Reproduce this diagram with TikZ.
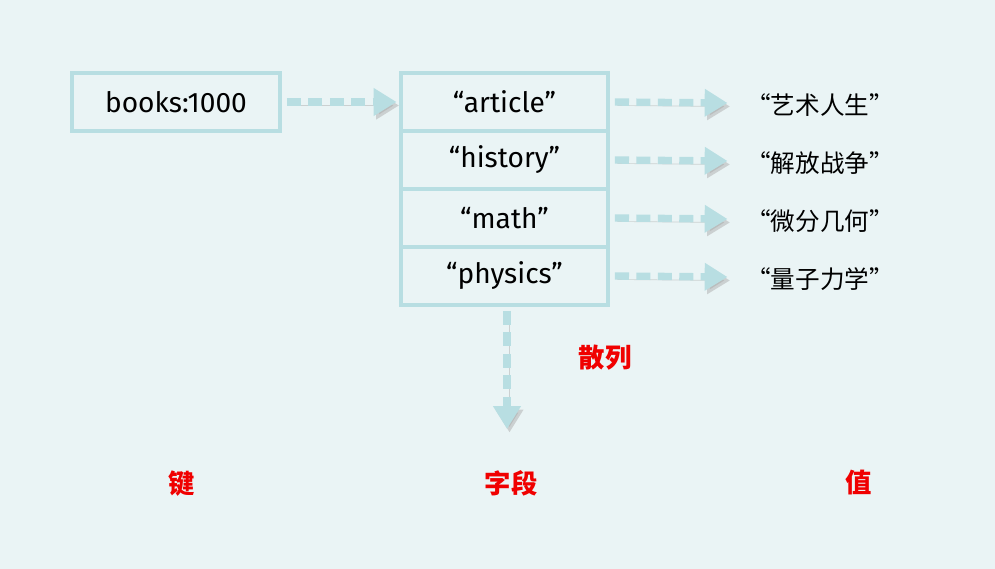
\documentclass[tikz,border=0pt]{standalone}
\usepackage{fontspec}
\setmainfont{Fira Sans}
\newfontfamily\cjk{Noto Sans CJK SC}
\usepackage{tikz}
\usetikzlibrary{arrows.meta,positioning,calc}
\definecolor{bgdots}{RGB}{234,244,245}
\definecolor{cellblue}{RGB}{184,222,226}
\definecolor{labelred}{RGB}{240,0,0}

\begin{document}
\begin{tikzpicture}[
    cell/.style={draw=cellblue, line width=2.2pt, minimum width=4.14cm, minimum height=1.16cm,
                 font=\fontsize{16}{19}\selectfont, text centered, inner sep=0pt},
    flow/.style={draw=cellblue, line width=4.2pt, dash pattern=on 8pt off 4.2pt,
                 -{Triangle[width=15pt,length=13pt]},
                 preaction={draw=gray!70, opacity=0.45, transform canvas={shift={(0.05,-0.07)}}}},
    val/.style={font=\cjk\fontsize{14}{17}\selectfont, anchor=west},
    tag/.style={font=\cjk\bfseries\fontsize{15}{18}\selectfont, text=labelred}
]
\useasboundingbox[fill=bgdots] (0,0) rectangle (19.9,-11.38);

\node[cell, minimum width=4.16cm] (key) at (3.52,-2.04) {books:1000};

\node[cell] (f1) at (10.09,-2.04) {“article”};
\node[cell] (f2) at (10.09,-3.20) {“history”};
\node[cell] (f3) at (10.09,-4.36) {“math”};
\node[cell] (f4) at (10.09,-5.52) {“physics”};

\node[val] (v1) at (14.8,-2.1) {“艺术人生”};
\node[val] (v2) at (14.8,-3.26) {“解放战争”};
\node[val] (v3) at (14.8,-4.42) {“微分几何”};
\node[val] (v4) at (14.8,-5.58) {“量子力学”};

\coordinate (down) at (10.14,-8.58);

\draw[flow] ([xshift=0.1cm]key.east) -- ([xshift=-0.05cm]f1.west);
\foreach \i in {1,...,4}
    \draw[flow] ([xshift=0.1cm]f\i.east) -- ([xshift=-0.25cm,yshift=0.04cm]v\i.west);
\draw[flow] ([xshift=0.05cm,yshift=-0.08cm]f4.south) -- (down);

\node[tag] (hash) at (12.1,-7.16) {散列};
\node[tag] (tkey) at (3.64,-9.68) {键};
\node[tag] (tfield) at (10.22,-9.66) {字段};
\node[tag] (tval) at (17.18,-9.66) {值};
\end{tikzpicture}
\end{document}
